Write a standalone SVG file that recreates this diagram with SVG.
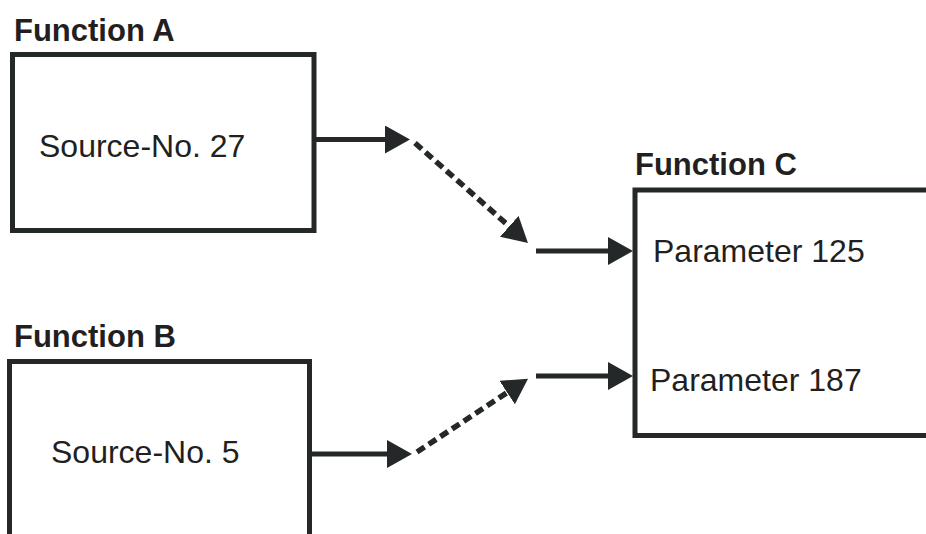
<svg xmlns="http://www.w3.org/2000/svg" width="926" height="534" viewBox="0 0 926 534">
  <style>
    .box { fill: #ffffff; stroke: #252828; stroke-width: 5; }
    .title { font-family: "Liberation Sans", Arial, sans-serif; font-weight: bold; font-size: 31px; fill: #231f20; }
    .label { font-family: "Liberation Sans", Arial, sans-serif; font-size: 32px; fill: #231f20; }
    .conn { fill: none; stroke: #252828; stroke-width: 5; }
    .dash { stroke-dasharray: 9 5; stroke-width: 5.5; }
  </style>
  <defs>
    <marker id="arrow" viewBox="0 0 25 28" refX="1" refY="14" markerWidth="25" markerHeight="28" markerUnits="userSpaceOnUse" orient="auto">
      <path d="M0,0 L25,14 L0,28 z" fill="#252828"/>
    </marker>
  </defs>
  <rect width="926" height="534" fill="#ffffff"/>

  <g id="functionA">
    <rect class="box" x="12.5" y="54.5" width="301.5" height="176"/>
    <text class="title" x="14" y="41">Function A</text>
    <text class="label" x="39" y="157">Source-No. 27</text>
  </g>

  <g id="functionB">
    <rect class="box" x="9.5" y="361.5" width="300" height="220"/>
    <text class="title" x="14" y="347">Function B</text>
    <text class="label" x="51" y="463">Source-No. 5</text>
  </g>

  <g id="functionC">
    <rect class="box" x="635" y="190" width="320" height="245.5"/>
    <text class="title" x="635" y="175">Function C</text>
    <text class="label" x="653" y="262">Parameter 125</text>
    <text class="label" x="650" y="391">Parameter 187</text>
  </g>

  <g id="connectors">
    <line class="conn" x1="316" y1="139.5" x2="386" y2="139.5" marker-end="url(#arrow)"/>
    <line class="conn dash" x1="415" y1="143" x2="510" y2="227" marker-end="url(#arrow)"/>
    <line class="conn" x1="536" y1="251" x2="609" y2="251" marker-end="url(#arrow)"/>

    <line class="conn" x1="312" y1="454" x2="388" y2="454" marker-end="url(#arrow)"/>
    <line class="conn dash" x1="417" y1="452" x2="508" y2="392" marker-end="url(#arrow)"/>
    <line class="conn" x1="536" y1="376" x2="609" y2="376" marker-end="url(#arrow)"/>
  </g>
</svg>
